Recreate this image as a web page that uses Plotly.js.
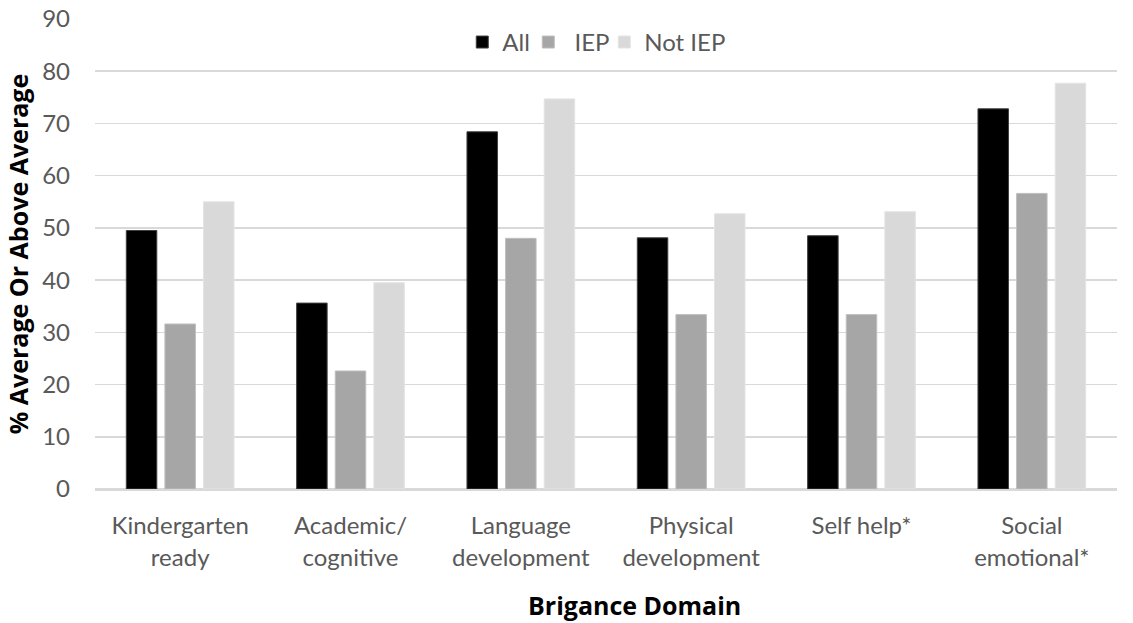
<!DOCTYPE html>
<html>
<head>
<meta charset="utf-8">
<script src="https://cdn.plot.ly/plotly-3.0.1.min.js"></script>
<style>html,body{margin:0;padding:0;background:#fff;}#chart{width:1133px;height:623px;}</style>
</head>
<body>
<div id="chart"></div>
<script>
const categories = ["Kindergarten<br>ready", "Academic/<br>cognitive", "Language<br>development", "Physical<br>development", "Self help*", "Social<br>emotional*"];
const allValues = [49.5, 35.6, 68.4, 48.1, 48.5, 72.8];
const iepValues = [31.6, 22.6, 48.0, 33.4, 33.4, 56.6];
const notIepValues = [55.0, 39.5, 74.7, 52.7, 53.1, 77.7];
const yTicks = [0, 10, 20, 30, 40, 50, 60, 70, 80, 90];
const xTitle = "Brigance Domain";
const yTitle = "% Average Or Above Average";

const FONT = "Lato, 'Open Sans', sans-serif";
const TITLE_FONT = "'Open Sans', Lato, sans-serif";

const traces = [
  {type: "bar", name: "All", x: categories, y: allValues, legendwidth: 21, marker: {color: "#000000", line: {color: "#404040", width: 1}}},
  {type: "bar", name: " IEP", x: categories, y: iepValues, legendwidth: 31, marker: {color: "#a6a6a6", line: {color: "#bfbfbf", width: 1}}},
  {type: "bar", name: "Not IEP", x: categories, y: notIepValues, legendwidth: 80, marker: {color: "#d9d9d9", line: {color: "#e4e4e4", width: 1}}}
];

const layout = {
  width: 1133, height: 623,
  margin: {l: 95, r: 16, t: 19, b: 134},
  paper_bgcolor: "#ffffff", plot_bgcolor: "#ffffff",
  font: {family: FONT, size: 24, color: "#595959"},
  barmode: "group",
  bargap: 0.32,
  bargroupgap: 0.21,
  showlegend: true,
  legend: {orientation: "h", x: 0.49, xanchor: "center", y: 0.998, yanchor: "top", font: {size: 24, color: "#595959"}, itemwidth: 30, tracegroupgap: 0, bgcolor: "rgba(0,0,0,0)"},
  xaxis: {
    type: "category",
    showgrid: false,
    showline: true, linecolor: "#d9d9d9", linewidth: 1.5,
    ticks: "", tickfont: {size: 24, color: "#595959"},
    ticklabelstandoff: 15,
    automargin: false
  },
  yaxis: {
    range: [0, 90],
    tickvals: yTicks,
    ticktext: yTicks.map(String),
    showgrid: true, gridcolor: "#d9d9d9", gridwidth: 1.5,
    zeroline: true, zerolinecolor: "#d9d9d9", zerolinewidth: 1.5,
    showline: false,
    ticks: "", tickfont: {size: 24, color: "#595959"},
    ticklabelstandoff: 24,
    title: {text: yTitle, font: {size: 25, color: "#000000", family: TITLE_FONT, weight: "bold"}, standoff: 6},
    automargin: false
  },
  annotations: [
    {text: xTitle, xref: "paper", yref: "paper", x: 0.528, y: -0.246, xanchor: "center", yanchor: "middle", showarrow: false,
     font: {size: 25, color: "#000000", family: TITLE_FONT, weight: "bold"}}
  ]
};

Plotly.newPlot("chart", traces, layout, {displayModeBar: false, staticPlot: true});
</script>
</body>
</html>
